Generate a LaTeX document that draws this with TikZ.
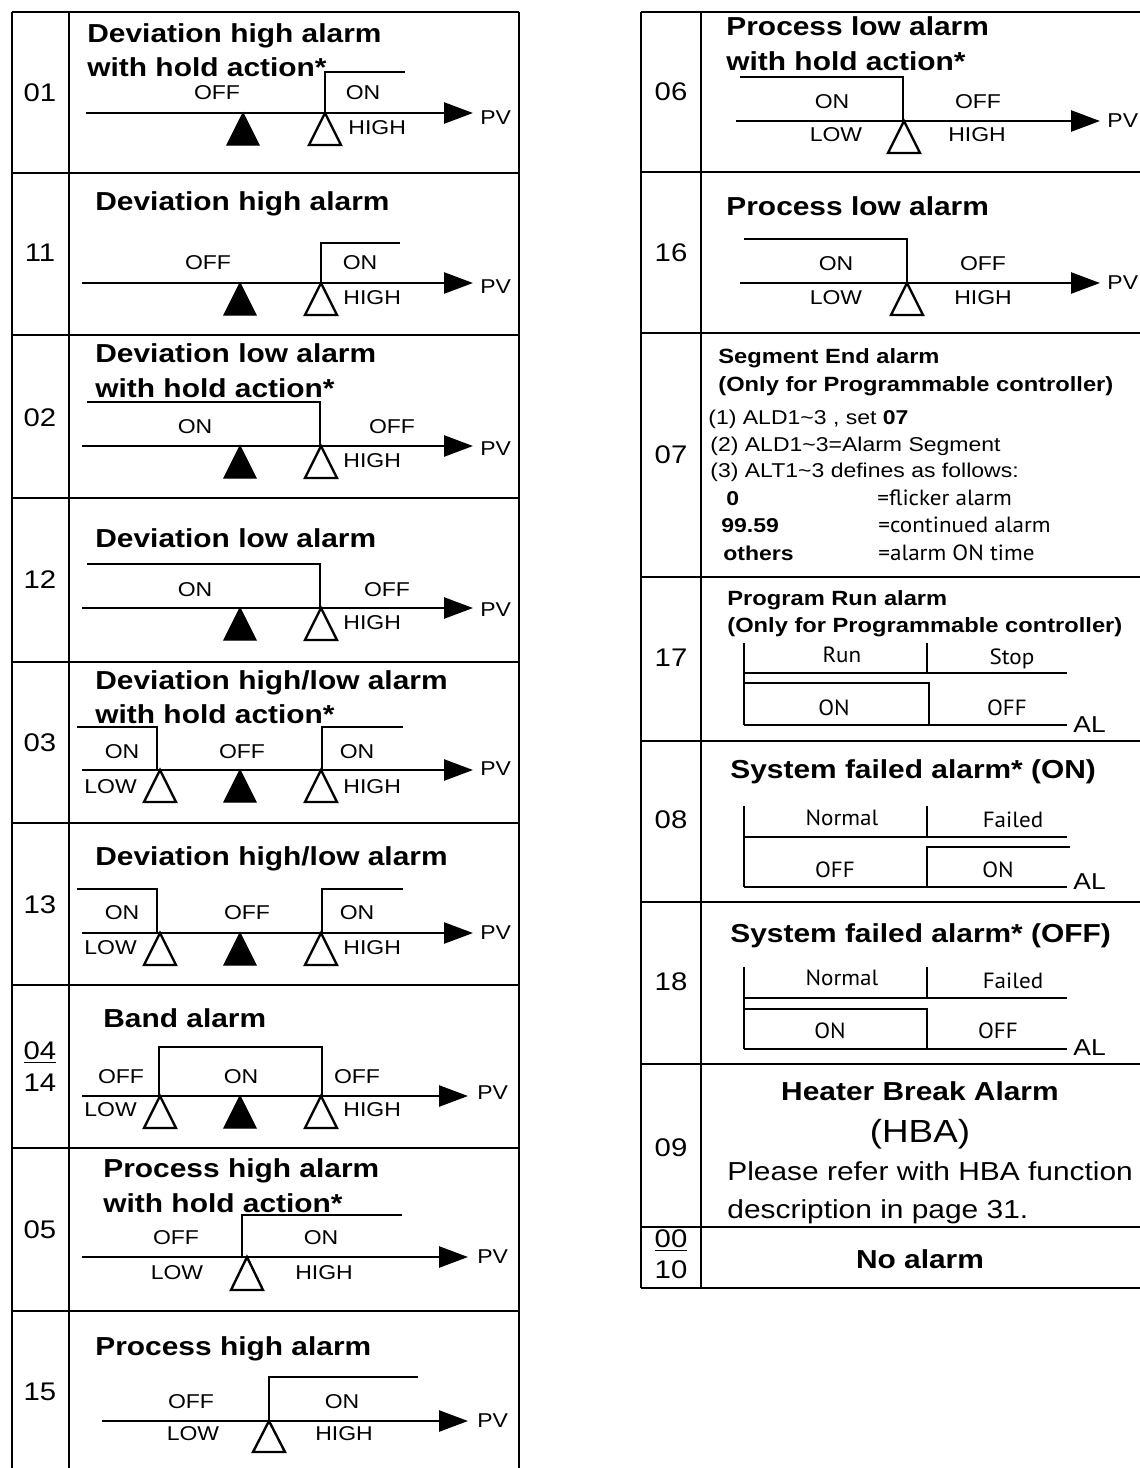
\documentclass[tikz,border=0pt]{standalone}
\usepackage{fontspec}
\setmainfont{Liberation Sans}[FakeStretch=1.15]
\newfontfamily\myr{PT Sans}[FakeStretch=1.05]
\usetikzlibrary{arrows.meta}

\begin{document}
\begin{tikzpicture}[x=0.5pt,y=0.5pt,yscale=-1,xscale=1,
    frame/.style={line width=1.4pt},
    axis/.style={line width=1.3pt,-{Triangle[length=14.5pt,width=10.5pt]}},
    stepline/.style={line width=0.6pt},
    thickline/.style={line width=1.2pt},
    opentri/.style={line width=1.2pt,line join=miter},
    filltri/.style={fill=black,line width=0.6pt},
    num/.style={inner sep=0pt,font=\fontsize{12.75pt}{15pt}\selectfont},
    ttl/.style={anchor=base west,inner sep=0pt,font=\fontsize{13pt}{16pt}\selectfont\bfseries},
    sttl/.style={anchor=base west,inner sep=0pt,font=\fontsize{10.3pt}{12pt}\selectfont\bfseries},
    lbl/.style={inner sep=0pt,font=\fontsize{10pt}{12pt}\selectfont},
    txt/.style={anchor=base west,inner sep=0pt,font=\fontsize{10pt}{12pt}\selectfont},
    mtxt/.style={anchor=base,inner sep=0pt,font=\myr\fontsize{11pt}{13pt}\selectfont},
    altxt/.style={anchor=base west,inner sep=0pt,font=\fontsize{11.5pt}{13pt}\selectfont}
  ]
    \useasboundingbox (0,0) rectangle (1140,1468);
    \clip (0,0) rectangle (1140,1468);

    %Shape: Table left
    \draw[frame] (12,12) -- (519,12);
    \draw[frame] (12,12) -- (12,1480);
    \draw[frame] (69,12) -- (69,1480);
    \draw[frame] (519,12) -- (519,1480);
    \draw[frame] (12,173) -- (519,173);
    \draw[frame] (12,335) -- (519,335);
    \draw[frame] (12,498) -- (519,498);
    \draw[frame] (12,662) -- (519,662);
    \draw[frame] (12,823) -- (519,823);
    \draw[frame] (12,985) -- (519,985);
    \draw[frame] (12,1148) -- (519,1148);
    \draw[frame] (12,1311) -- (519,1311);
    %Shape: Table right
    \draw[frame] (641,12) -- (1150,12);
    \draw[frame] (641,12) -- (641,1288);
    \draw[frame] (701,12) -- (701,1288);
    \draw[frame] (641,172) -- (1150,172);
    \draw[frame] (641,333) -- (1150,333);
    \draw[frame] (641,577) -- (1150,577);
    \draw[frame] (641,741) -- (1150,741);
    \draw[frame] (641,902) -- (1150,902);
    \draw[frame] (641,1064) -- (1150,1064);
    \draw[frame] (641,1227) -- (1150,1227);
    \draw[frame] (641,1288) -- (1150,1288);

    % Text Node
    \node[num] (n01) at (40,93) {01};
    \node[num] (n11) at (40,253) {11};
    \node[num] (n02) at (40,418) {02};
    \node[num] (n12) at (40,580) {12};
    \node[num] (n03) at (40,743) {03};
    \node[num] (n13) at (40,905) {13};
    \node[num,anchor=base] (n04) at (40,1059) {\underline{04}};
    \node[num] (n14) at (40,1083) {14};
    \node[num] (n05) at (40,1230) {05};
    \node[num] (n15) at (40,1392) {15};
    \node[num] (n06) at (671,92) {06};
    \node[num] (n16) at (671,253) {16};
    \node[num] (n07) at (671,455) {07};
    \node[num] (n17) at (671,658) {17};
    \node[num] (n08) at (671,820) {08};
    \node[num] (n18) at (671,982) {18};
    \node[num] (n09) at (671,1148) {09};
    \node[num,anchor=base] (n00) at (671,1247) {\underline{00}};
    \node[num] (n10) at (671,1270) {10};

    %Row 01
    \draw[axis] (86,113) -- (473,113);
    \draw[stepline] (325,113) -- (325,72) -- (405,72);
    \draw[filltri] (243,113) -- (259,145) -- (227,145) -- cycle;
    \draw[opentri] (325,113) -- (341,145) -- (309,145) -- cycle;
    \node[ttl] (t01a) at (87,42) {Deviation high alarm};
    \node[ttl] (t01b) at (87,76) {with hold action*};
    \node[lbl] (off01) at (217,93) {OFF};
    \node[lbl] (on01) at (363,93) {ON};
    \node[lbl,anchor=west] (high01) at (348,128) {HIGH};
    \node[lbl,anchor=west] (pv01) at (480,118) {PV};

    %Row 11
    \draw[axis] (82,283) -- (473,283);
    \draw[stepline] (321,283) -- (321,243) -- (400,243);
    \draw[filltri] (240,283) -- (256,315) -- (224,315) -- cycle;
    \draw[opentri] (321,283) -- (337,315) -- (305,315) -- cycle;
    \node[ttl] (t11) at (95,210) {Deviation high alarm};
    \node[lbl] (off11) at (208,263) {OFF};
    \node[lbl] (on11) at (360,263) {ON};
    \node[lbl,anchor=west] (high11) at (343,298) {HIGH};
    \node[lbl,anchor=west] (pv11) at (480,287) {PV};

    %Row 02
    \draw[axis] (82,446) -- (473,446);
    \draw[stepline] (87,402) -- (320,402) -- (320,446);
    \draw[filltri] (240,446) -- (256,478) -- (224,478) -- cycle;
    \draw[opentri] (321,446) -- (337,478) -- (305,478) -- cycle;
    \node[ttl] (t02a) at (95,362) {Deviation low alarm};
    \node[ttl] (t02b) at (95,397) {with hold action*};
    \node[lbl] (on02) at (195,427) {ON};
    \node[lbl] (off02) at (392,427) {OFF};
    \node[lbl,anchor=west] (high02) at (343,461) {HIGH};
    \node[lbl,anchor=west] (pv02) at (480,449) {PV};

    %Row 12
    \draw[axis] (82,608) -- (473,608);
    \draw[stepline] (87,564) -- (320,564) -- (320,608);
    \draw[filltri] (240,608) -- (256,640) -- (224,640) -- cycle;
    \draw[opentri] (321,608) -- (337,640) -- (305,640) -- cycle;
    \node[ttl] (t12) at (95,547) {Deviation low alarm};
    \node[lbl] (on12) at (195,590) {ON};
    \node[lbl] (off12) at (387,590) {OFF};
    \node[lbl,anchor=west] (high12) at (343,623) {HIGH};
    \node[lbl,anchor=west] (pv12) at (480,610) {PV};

    %Row 03
    \draw[axis] (82,770) -- (473,770);
    \draw[stepline] (77,727) -- (157,727) -- (157,770);
    \draw[stepline] (322,770) -- (322,727) -- (403,727);
    \draw[opentri] (160,770) -- (176,802) -- (144,802) -- cycle;
    \draw[filltri] (240,770) -- (256,802) -- (224,802) -- cycle;
    \draw[opentri] (321,770) -- (337,802) -- (305,802) -- cycle;
    \node[ttl] (t03a) at (95,689) {Deviation high/low alarm};
    \node[ttl] (t03b) at (95,723) {with hold action*};
    \node[lbl] (on03a) at (122,752) {ON};
    \node[lbl] (off03) at (242,752) {OFF};
    \node[lbl] (on03b) at (357,752) {ON};
    \node[lbl,anchor=west] (low03) at (84,787) {LOW};
    \node[lbl,anchor=west] (high03) at (343,787) {HIGH};
    \node[lbl,anchor=west] (pv03) at (480,769) {PV};

    %Row 13
    \draw[axis] (82,933) -- (473,933);
    \draw[stepline] (77,889) -- (157,889) -- (157,933);
    \draw[stepline] (322,933) -- (322,889) -- (403,889);
    \draw[opentri] (160,933) -- (176,965) -- (144,965) -- cycle;
    \draw[filltri] (240,933) -- (256,965) -- (224,965) -- cycle;
    \draw[opentri] (321,933) -- (337,965) -- (305,965) -- cycle;
    \node[ttl] (t13) at (95,865) {Deviation high/low alarm};
    \node[lbl] (on13a) at (122,913) {ON};
    \node[lbl] (off13) at (247,913) {OFF};
    \node[lbl] (on13b) at (357,913) {ON};
    \node[lbl,anchor=west] (low13) at (84,948) {LOW};
    \node[lbl,anchor=west] (high13) at (343,948) {HIGH};
    \node[lbl,anchor=west] (pv13) at (480,933) {PV};

    %Row 04/14
    \draw[axis] (82,1096) -- (468,1096);
    \draw[stepline] (159,1096) -- (159,1047) -- (322,1047) -- (322,1096);
    \draw[opentri] (160,1096) -- (176,1128) -- (144,1128) -- cycle;
    \draw[filltri] (240,1096) -- (256,1128) -- (224,1128) -- cycle;
    \draw[opentri] (321,1096) -- (337,1128) -- (305,1128) -- cycle;
    \node[ttl] (t04) at (103,1027) {Band alarm};
    \node[lbl] (off04a) at (121,1077) {OFF};
    \node[lbl] (on04) at (241,1077) {ON};
    \node[lbl] (off04b) at (357,1077) {OFF};
    \node[lbl,anchor=west] (low04) at (84,1110) {LOW};
    \node[lbl,anchor=west] (high04) at (343,1110) {HIGH};
    \node[lbl,anchor=west] (pv04) at (477,1093) {PV};

    %Row 05
    \draw[axis] (82,1257) -- (468,1257);
    \draw[stepline] (242,1257) -- (242,1215) -- (402,1215);
    \draw[opentri] (247,1257) -- (263,1290) -- (231,1290) -- cycle;
    \node[ttl] (t05a) at (103,1177) {Process high alarm};
    \node[ttl] (t05b) at (103,1212) {with hold action*};
    \node[lbl] (off05) at (176,1238) {OFF};
    \node[lbl] (on05) at (321,1238) {ON};
    \node[lbl] (low05) at (177,1273) {LOW};
    \node[lbl] (high05) at (324,1273) {HIGH};
    \node[lbl,anchor=west] (pv05) at (477,1257) {PV};

    %Row 15
    \draw[axis] (102,1421) -- (468,1421);
    \draw[stepline] (269,1421) -- (269,1377) -- (418,1377);
    \draw[opentri] (269,1421) -- (285,1452) -- (253,1452) -- cycle;
    \node[ttl] (t15) at (95,1355) {Process high alarm};
    \node[lbl] (off15) at (191,1402) {OFF};
    \node[lbl] (on15) at (342,1402) {ON};
    \node[lbl] (low15) at (193,1434) {LOW};
    \node[lbl] (high15) at (344,1434) {HIGH};
    \node[lbl,anchor=west] (pv15) at (477,1421) {PV};

    %Row 06
    \draw[axis] (736,121) -- (1100,121);
    \draw[stepline] (740,77) -- (903,77) -- (903,121);
    \draw[opentri] (904,121) -- (920,153) -- (888,153) -- cycle;
    \node[ttl] (t06a) at (726,35) {Process low alarm};
    \node[ttl] (t06b) at (726,70) {with hold action*};
    \node[lbl] (on06) at (832,102) {ON};
    \node[lbl] (off06) at (978,102) {OFF};
    \node[lbl] (low06) at (836,135) {LOW};
    \node[lbl] (high06) at (977,135) {HIGH};
    \node[lbl,anchor=west] (pv06) at (1107,121) {PV};

    %Row 16
    \draw[axis] (740,283) -- (1100,283);
    \draw[stepline] (744,239) -- (907,239) -- (907,283);
    \draw[opentri] (907,283) -- (923,315) -- (891,315) -- cycle;
    \node[ttl] (t16) at (726,215) {Process low alarm};
    \node[lbl] (on16) at (836,264) {ON};
    \node[lbl] (off16) at (983,264) {OFF};
    \node[lbl] (low16) at (836,298) {LOW};
    \node[lbl] (high16) at (983,298) {HIGH};
    \node[lbl,anchor=west] (pv16) at (1107,283) {PV};

    %Row 07
    \node[sttl] (t07a) at (718,363) {Segment End alarm};
    \node[sttl] (t07b) at (718,391) {(Only for Programmable controller)};
    \node[txt] (ald1) at (708,424) {(1) ALD1\textasciitilde3 , set \textbf{07}};
    \node[txt] (ald2) at (710,451) {(2) ALD1\textasciitilde3=Alarm Segment};
    \node[txt] (alt3) at (710,477) {(3) ALT1\textasciitilde3 defines as follows:};
    \node[txt,font=\fontsize{10pt}{12pt}\selectfont\bfseries] (v0) at (726,505) {0};
    \node[txt,font=\fontsize{10pt}{12pt}\selectfont\bfseries] (v9959) at (721,532) {99.59};
    \node[txt,font=\fontsize{10pt}{12pt}\selectfont\bfseries] (vothers) at (723,560) {others};
    \node[mtxt,anchor=base west] (flicker) at (877,505) {=flicker alarm};
    \node[mtxt,anchor=base west] (continued) at (878,532) {=continued alarm};
    \node[mtxt,anchor=base west] (ontime) at (878,560) {=alarm ON time};

    %Row 17
    \node[sttl] (t17a) at (727,605) {Program Run alarm};
    \node[sttl] (t17b) at (727,632) {(Only for Programmable controller)};
    \draw[thickline] (744,643) -- (744,725);
    \draw[thickline] (927,643) -- (927,673);
    \draw[thickline] (744,673) -- (1067,673);
    \draw[stepline] (744,683) -- (929,683) -- (929,725);
    \draw[thickline] (744,725) -- (1067,725);
    \node[mtxt] (run17) at (842,662) {Run};
    \node[mtxt] (stop17) at (1012,664) {Stop};
    \node[mtxt] (on17) at (834,715) {ON};
    \node[mtxt] (off17) at (1007,715) {OFF};
    \node[altxt] (al17) at (1073,732) {AL};

    %Row 08
    \node[ttl] (t08) at (730,778) {System failed alarm* (ON)};
    \draw[thickline] (744,806) -- (744,887);
    \draw[thickline] (927,806) -- (927,837);
    \draw[thickline] (744,837) -- (1067,837);
    \draw[stepline] (927,887) -- (927,847) -- (1070,847);
    \draw[thickline] (744,887) -- (1067,887);
    \node[mtxt] (normal08) at (842,825) {Normal};
    \node[mtxt] (failed08) at (1013,827) {Failed};
    \node[mtxt] (off08) at (835,877) {OFF};
    \node[mtxt] (on08) at (998,877) {ON};
    \node[altxt] (al08) at (1073,889) {AL};

    %Row 18
    \node[ttl] (t18) at (730,942) {System failed alarm* (OFF)};
    \draw[thickline] (744,967) -- (744,1049);
    \draw[thickline] (927,967) -- (927,998);
    \draw[thickline] (744,998) -- (1067,998);
    \draw[stepline] (744,1009) -- (927,1009) -- (927,1049);
    \draw[thickline] (744,1049) -- (1067,1049);
    \node[mtxt] (normal18) at (842,985) {Normal};
    \node[mtxt] (failed18) at (1013,988) {Failed};
    \node[mtxt] (on18) at (830,1038) {ON};
    \node[mtxt] (off18) at (998,1038) {OFF};
    \node[altxt] (al18) at (1073,1055) {AL};

    %Row 09
    \node[ttl,anchor=base] (t09) at (920,1100) {Heater Break Alarm};
    \node[inner sep=0pt,anchor=base,font=\fontsize{16pt}{18pt}\selectfont] (hba) at (920,1142) {(HBA)};
    \node[txt,font=\fontsize{13pt}{16pt}\selectfont] (refer1) at (727,1180) {Please refer with HBA function};
    \node[txt,font=\fontsize{13pt}{16pt}\selectfont] (refer2) at (727,1218) {description in page 31.};

    %Row 00/10
    \node[ttl,anchor=center] (t00) at (920,1259) {No alarm};

\end{tikzpicture}
\end{document}
